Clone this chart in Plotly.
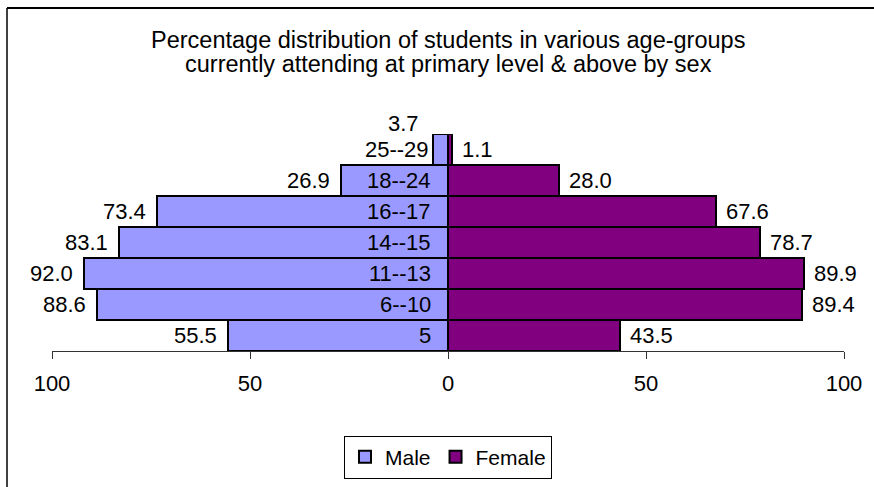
import plotly.graph_objects as go

categories = ["5", "6--10", "11--13", "14--15", "16--17", "18--24", "25--29"]
male = [55.5, 88.6, 92.0, 83.1, 73.4, 26.9, 3.7]
female = [43.5, 89.4, 89.9, 78.7, 67.6, 28.0, 1.1]
tick_vals = [-100, -50, 0, 50, 100]
tick_text = ["100", "50", "0", "50", "100"]
title_lines = ["Percentage distribution of students in various age-groups",
               "currently attending at primary level & above by sex"]

W, H = 874, 487
ML, MR, MT, MB = 52, 30, 134, 136
PW, PH = W - ML - MR, H - MT - MB

FONT = "Liberation Sans, Arial, sans-serif"
FS = 22
TFS = 23.5
MALE_C = "#9999FF"
FEMALE_C = "#800080"

fig = go.Figure()
fig.add_trace(go.Bar(
    y=categories, x=[-v for v in male], orientation="h", name="Male",
    marker=dict(color=MALE_C, line=dict(color="black", width=2)),
))
fig.add_trace(go.Bar(
    y=categories, x=female, orientation="h", name="Female",
    marker=dict(color=FEMALE_C, line=dict(color="black", width=2)),
))

ann = []
px_per_unit = PW / 200.0
for i, (c, m, f) in enumerate(zip(categories, male, female)):
    # male value label
    if m < 5:
        ann.append(dict(x=-m, y=i, text=f"{m:.1f}", xanchor="right", yanchor="middle",
                        xshift=-12, yshift=26, showarrow=False))
    else:
        ann.append(dict(x=-m, y=i, text=f"{m:.1f}", xanchor="right", yanchor="middle",
                        xshift=-9, showarrow=False))
    # female value label
    ann.append(dict(x=f, y=i, text=f"{f:.1f}", xanchor="left", yanchor="middle",
                    xshift=8, showarrow=False))
    # category label
    if m * px_per_unit > 40:
        ann.append(dict(x=0, y=i, text=c, xanchor="right", yanchor="middle",
                        xshift=-15, showarrow=False))
    else:
        ann.append(dict(x=-m, y=i, text=c, xanchor="right", yanchor="middle",
                        xshift=-2, showarrow=False))

# title lines
for line, ypx in zip(title_lines, [40, 64]):
    ann.append(dict(x=0.5, y=(H - MB - ypx) / PH, xref="paper", yref="paper",
                    text=line, showarrow=False, xanchor="center", yanchor="middle",
                    font=dict(size=TFS, family=FONT, color="black")))

def px_x(p):
    return (p - ML) / PW

def px_y(p):
    return (H - MB - p) / PH

# outer frame: only top and left edges fall inside the picture
shapes = [
    dict(type="line", xref="paper", yref="paper",
         x0=px_x(7), x1=px_x(W + 20), y0=px_y(8), y1=px_y(8),
         line=dict(color="black", width=2)),
    dict(type="line", xref="paper", yref="paper",
         x0=px_x(7), x1=px_x(7), y0=px_y(8), y1=px_y(H + 20),
         line=dict(color="black", width=1.5)),
]

fig.update_layout(
    width=W, height=H,
    margin=dict(l=ML, r=MR, t=MT, b=MB, pad=0, autoexpand=False),
    paper_bgcolor="white", plot_bgcolor="white",
    barmode="relative", bargap=0,
    font=dict(family=FONT, size=FS, color="black"),
    showlegend=True,
    legend=dict(orientation="h", x=0.5, xanchor="center",
                y=px_y(457), yanchor="middle",
                bordercolor="black", borderwidth=1, bgcolor="white",
                font=dict(size=21, family=FONT, color="black"),
                itemwidth=30, traceorder="normal"),
    xaxis=dict(range=[-100, 100], tickvals=tick_vals, ticktext=tick_text,
               showgrid=False, zeroline=False, showline=True, linecolor="#333",
               linewidth=1, ticks="outside", ticklen=7, tickcolor="#333",
               ticklabelstandoff=6, automargin=False,
               tickfont=dict(size=FS, family=FONT, color="black"), fixedrange=True),
    yaxis=dict(type="category", range=[-0.5, 6.5], visible=False, fixedrange=True,
               automargin=False),
    annotations=ann,
    shapes=shapes,
)

fig.write_html("out.html", config={"displayModeBar": False},
               post_script=("document.body.style.margin='0px';"
                            "document.body.style.overflow='hidden';"
                            "document.documentElement.style.overflow='hidden';"))
